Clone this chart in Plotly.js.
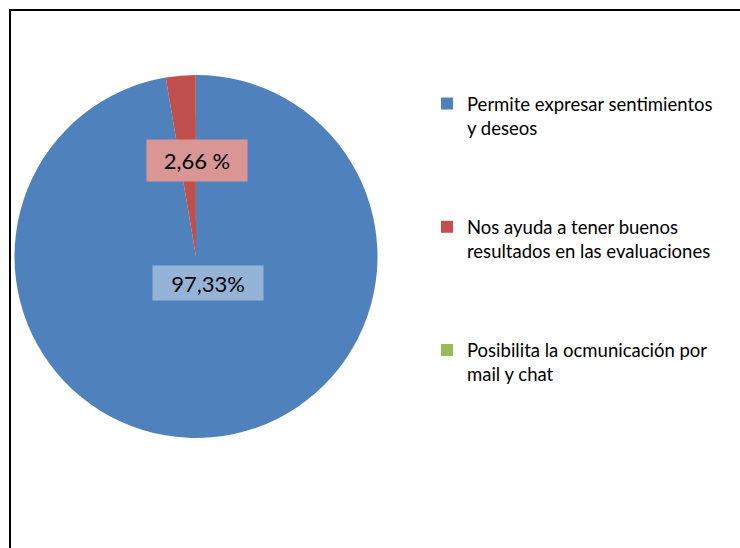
<!DOCTYPE html>
<html>
<head>
<meta charset="utf-8">
<script src="https://cdn.plot.ly/plotly-3.0.1.min.js"></script>
<style>
html,body{margin:0;padding:0;width:740px;height:548px;overflow:hidden;background:#fff;}
#frame{position:absolute;left:9px;top:9px;width:760px;height:600px;border:2px solid #000;box-sizing:border-box;}
#chart{position:absolute;left:0;top:0;width:740px;height:548px;}
</style>
</head>
<body>
<div id="frame"></div>
<div id="chart"></div>
<script>
var categories = [
  "Permite expresar sentimientos<br>y deseos",
  "Nos ayuda a tener buenos<br>resultados en las evaluaciones",
  "Posibilita la ocmunicación por<br>mail y chat"
];
var values = [97.33, 2.66, 0.01];
var valueLabels = ["97,33%", "2,66 %"];
var colors = ["#4F81BD", "#C0504D", "#9BBB59"];
var labelBoxColors = ["#95B3D7", "#D99694"];

var W = 740, H = 548;
var pad = "<br> <br> <br> ";
var trace = {
  type: "pie",
  labels: categories.map(function(c){ return c + pad; }),
  values: values,
  sort: false,
  direction: "clockwise",
  rotation: 0,
  textinfo: "none",
  hoverinfo: "label+percent",
  marker: {colors: colors, line: {width: 0}},
  domain: {x: [13/W, 379/W], y: [1 - 438/H, 1 - 75/H]}
};

var font = {family: "Lato, 'Open Sans', sans-serif", size: 18.5, color: "#000"};
var annPos = [[208, 283], [197, 160.5]];
var annSize = [[110, 34], [100, 41]];
var annotations = valueLabels.map(function(t, i){
  return {
    text: t, xref: "paper", yref: "paper",
    x: annPos[i][0]/W, y: 1 - annPos[i][1]/H,
    xanchor: "center", yanchor: "middle", showarrow: false,
    width: annSize[i][0], height: annSize[i][1],
    bgcolor: labelBoxColors[i], borderpad: 0,
    font: {family: font.family, size: 22, color: "#000"}
  };
});

var layout = {
  width: W, height: H,
  margin: {l: 0, r: 0, t: 0, b: 0},
  paper_bgcolor: "rgba(0,0,0,0)",
  plot_bgcolor: "rgba(0,0,0,0)",
  showlegend: true,
  font: font,
  legend: {
    x: 427/W, y: 1 - 85/H, xanchor: "left", yanchor: "top",
    valign: "top", font: font, bgcolor: "rgba(0,0,0,0)"
  },
  annotations: annotations
};

Plotly.newPlot("chart", [trace], layout, {displayModeBar: false, staticPlot: true});
</script>
</body>
</html>
